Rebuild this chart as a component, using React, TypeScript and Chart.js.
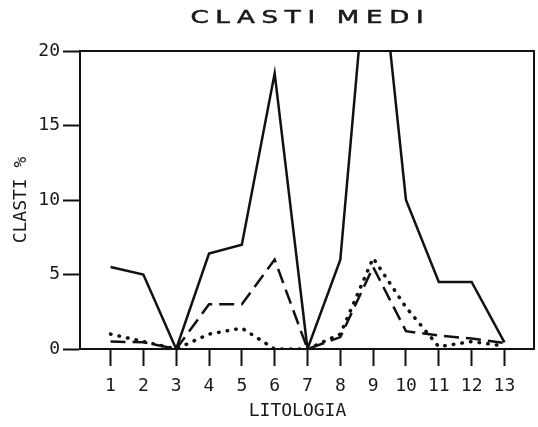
import React, { useEffect, useRef } from 'react';
import { Chart, registerables } from 'chart.js';

Chart.register(...registerables);

const TITLE = 'CLASTI MEDI';
const X_TITLE = 'LITOLOGIA';
const Y_TITLE = 'CLASTI %';

const litologia = [1, 2, 3, 4, 5, 6, 7, 8, 9, 10, 11, 12, 13];
const yTickValues = [0, 5, 10, 15, 20];

const solidSeries = [5.5, 5.0, 0, 6.4, 7.0, 18.5, 0, 6.0, 31, 10, 4.5, 4.5, 0.45];
const dashedSeries = [0.5, 0.45, 0, 3.0, 3.0, 6.0, 0, 0.8, 5.5, 1.2, 0.9, 0.7, 0.4];
const dottedSeries = [1.0, 0.5, 0, 1.0, 1.4, 0, 0, 1.0, 6.1, 2.8, 0.15, 0.5, 0.2];

const MONO = '"DejaVu Sans Mono", monospace';

const framePlugin = {
  id: 'frameAndTitle',
  afterDraw(chart: any) {
    const { ctx, chartArea } = chart;
    ctx.save();
    ctx.strokeStyle = '#111';
    ctx.lineWidth = 2;
    ctx.beginPath();
    ctx.moveTo(chartArea.left, chartArea.top);
    ctx.lineTo(chartArea.right, chartArea.top);
    ctx.lineTo(chartArea.right, chartArea.bottom);
    ctx.stroke();
    ctx.restore();

    // chart title, wide plotter-style lettering
    ctx.save();
    const cx = (chartArea.left + chartArea.right) / 2;
    const sx = 1.45;
    ctx.translate(cx, 18.5);
    ctx.scale(sx, 1);
    ctx.font = '18px "DejaVu Sans", sans-serif';
    (ctx as any).letterSpacing = '4.6px';
    ctx.fillStyle = '#1a1a1a';
    ctx.strokeStyle = '#1a1a1a';
    ctx.lineWidth = 0.5;
    ctx.textAlign = 'left';
    ctx.textBaseline = 'middle';
    const w = ctx.measureText(TITLE).width - 4.6;
    ctx.fillText(TITLE, -w / 2, 0);
    ctx.strokeText(TITLE, -w / 2, 0);
    ctx.restore();

    // x-axis title
    ctx.save();
    ctx.font = `18px ${MONO}`;
    ctx.fillStyle = '#1a1a1a';
    ctx.textAlign = 'center';
    ctx.textBaseline = 'middle';
    ctx.fillText(X_TITLE, cx - 9.5, 411);
    ctx.restore();
  },
};

export default function App() {
  const canvasRef = useRef<HTMLCanvasElement | null>(null);

  useEffect(() => {
    const canvas = canvasRef.current;
    if (!canvas) return;
    const mk = (vals: number[]) => litologia.map((x, i) => ({ x, y: vals[i] }));
    const chart = new Chart(canvas, {
      type: 'line',
      data: {
        datasets: [
          {
            label: 'solid',
            data: mk(solidSeries),
            borderColor: '#111',
            borderWidth: 2.5,
            pointRadius: 0,
            tension: 0,
          },
          {
            label: 'dashed',
            data: mk(dashedSeries),
            borderColor: '#111',
            borderWidth: 2.5,
            borderDash: [15, 7],
            pointRadius: 0,
            tension: 0,
          },
          {
            label: 'dotted',
            data: mk(dottedSeries),
            borderColor: '#111',
            borderWidth: 3.5,
            borderDash: [0.5, 8.2],
            borderCapStyle: 'round',
            pointRadius: 0,
            tension: 0,
          },
        ],
      },
      options: {
        animation: false,
        responsive: false,
        maintainAspectRatio: false,
        layout: { padding: { top: 51, right: 4, left: 0, bottom: 0 } },
        plugins: {
          legend: { display: false },
          tooltip: { enabled: false },
          title: { display: false },
        },
        scales: {
          x: {
            type: 'linear',
            min: 0.07,
            max: 13.9,
            afterFit: (s: any) => {
              s.height = 78;
            },
            afterBuildTicks: (s: any) => {
              s.ticks = litologia.map((v) => ({ value: v }));
            },
            grid: {
              drawOnChartArea: false,
              drawTicks: true,
              tickLength: 17,
              tickColor: '#111',
              tickWidth: 2,
            },
            border: { display: true, color: '#111', width: 2 },
            ticks: {
              color: '#1a1a1a',
              font: { family: MONO, size: 18 },
              padding: 10,
              maxRotation: 0,
              autoSkip: false,
              callback: (v: any) => String(v),
            },
            title: { display: false },
          },
          y: {
            min: 0,
            max: 20,
            afterFit: (s: any) => {
              s.width = 80;
            },
            afterBuildTicks: (s: any) => {
              s.ticks = yTickValues.map((v) => ({ value: v }));
            },
            grid: {
              drawOnChartArea: false,
              drawTicks: true,
              tickLength: 17,
              tickColor: '#111',
              tickWidth: 2,
            },
            border: { display: true, color: '#111', width: 2 },
            ticks: {
              color: '#1a1a1a',
              font: { family: MONO, size: 18 },
              padding: 3,
              callback: (v: any) => String(v),
            },
            title: {
              display: true,
              text: Y_TITLE,
              color: '#1a1a1a',
              font: { family: MONO, size: 18 },
              padding: { top: 11, bottom: 0 },
            },
          },
        },
      },
      plugins: [framePlugin],
    });
    return () => chart.destroy();
  }, []);

  return (
    <div style={{ position: 'fixed', left: 0, top: 0, width: 538, height: 427, background: '#fff' }}>
      <canvas ref={canvasRef} width={538} height={427} style={{ display: 'block' }} />
    </div>
  );
}
